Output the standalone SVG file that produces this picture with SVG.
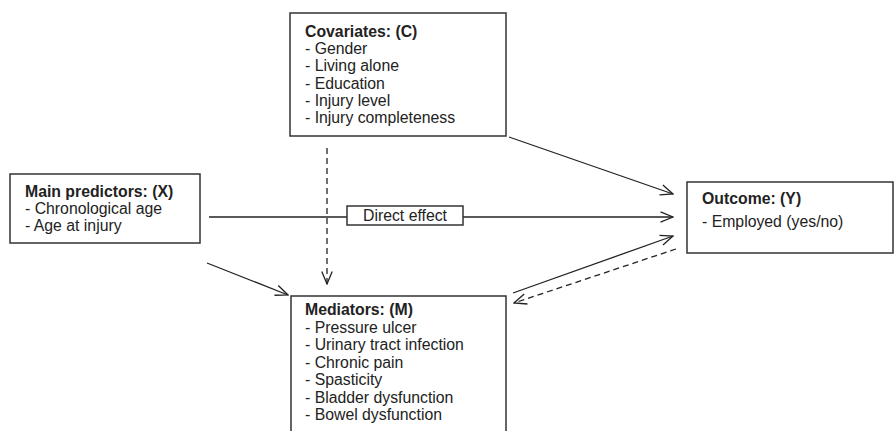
<svg xmlns="http://www.w3.org/2000/svg" width="894" height="431" viewBox="0 0 894 431">
<style>
.box{fill:#fff;stroke:#333;stroke-width:1.5}
.t{font-family:"Liberation Sans",Arial,sans-serif;font-size:15.8px;fill:#222}
.b{font-weight:bold}
.ln{fill:none;stroke:#222;stroke-width:1.3}
.dash{stroke-dasharray:6,4}
</style>
<defs>
<marker id="ah" viewBox="0 0 14 12" refX="13" refY="6" markerWidth="14" markerHeight="12" markerUnits="userSpaceOnUse" orient="auto">
<path d="M0.5,0.8 L13,6 L0.5,11.2" fill="none" stroke="#222" stroke-width="1.3"/>
</marker>
</defs>
<rect width="894" height="431" fill="#fff"/>
<g id="connectors">
<line class="ln" x1="209" y1="217" x2="673" y2="217" marker-end="url(#ah)"/>
<line class="ln" x1="509" y1="137" x2="673" y2="194" marker-end="url(#ah)"/>
<line class="ln dash" x1="327" y1="148" x2="327" y2="284" marker-end="url(#ah)"/>
<line class="ln" x1="207" y1="263" x2="288" y2="295" marker-end="url(#ah)"/>
<line class="ln" x1="513" y1="293" x2="673" y2="236" marker-end="url(#ah)"/>
<line class="ln dash" x1="676" y1="249" x2="514" y2="303" marker-end="url(#ah)"/>
<g id="direct-label">
<rect class="box" x="347" y="206" width="116" height="19"/>
<text class="t" x="405" y="221" text-anchor="middle">Direct effect</text>
</g>
</g>
<g id="covariates">
<rect class="box" x="290" y="13" width="216" height="123"/>
<text class="t" x="305" y="37"><tspan class="b">Covariates: (C)</tspan><tspan x="305" dy="17.2">- Gender</tspan><tspan x="305" dy="17.2">- Living alone</tspan><tspan x="305" dy="17.2">- Education</tspan><tspan x="305" dy="17.2">- Injury level</tspan><tspan x="305" dy="17.2">- Injury completeness</tspan></text>
</g>
<g id="predictors">
<rect class="box" x="10" y="174" width="190" height="69"/>
<text class="t" x="25" y="197"><tspan class="b">Main predictors: (X)</tspan><tspan x="25" dy="17">- Chronological age</tspan><tspan x="25" dy="17">- Age at injury</tspan></text>
</g>
<g id="outcome">
<rect class="box" x="687" y="182" width="206" height="71"/>
<text class="t" x="702" y="204"><tspan class="b">Outcome: (Y)</tspan><tspan x="702" dy="23">- Employed (yes/no)</tspan></text>
</g>
<g id="mediators">
<rect class="box" x="291" y="296" width="215" height="145"/>
<text class="t" x="305" y="315"><tspan class="b">Mediators: (M)</tspan><tspan x="305" dy="17.5">- Pressure ulcer</tspan><tspan x="305" dy="17.5">- Urinary tract infection</tspan><tspan x="305" dy="17.5">- Chronic pain</tspan><tspan x="305" dy="17.5">- Spasticity</tspan><tspan x="305" dy="17.5">- Bladder dysfunction</tspan><tspan x="305" dy="17.5">- Bowel dysfunction</tspan></text>
</g>
</svg>
